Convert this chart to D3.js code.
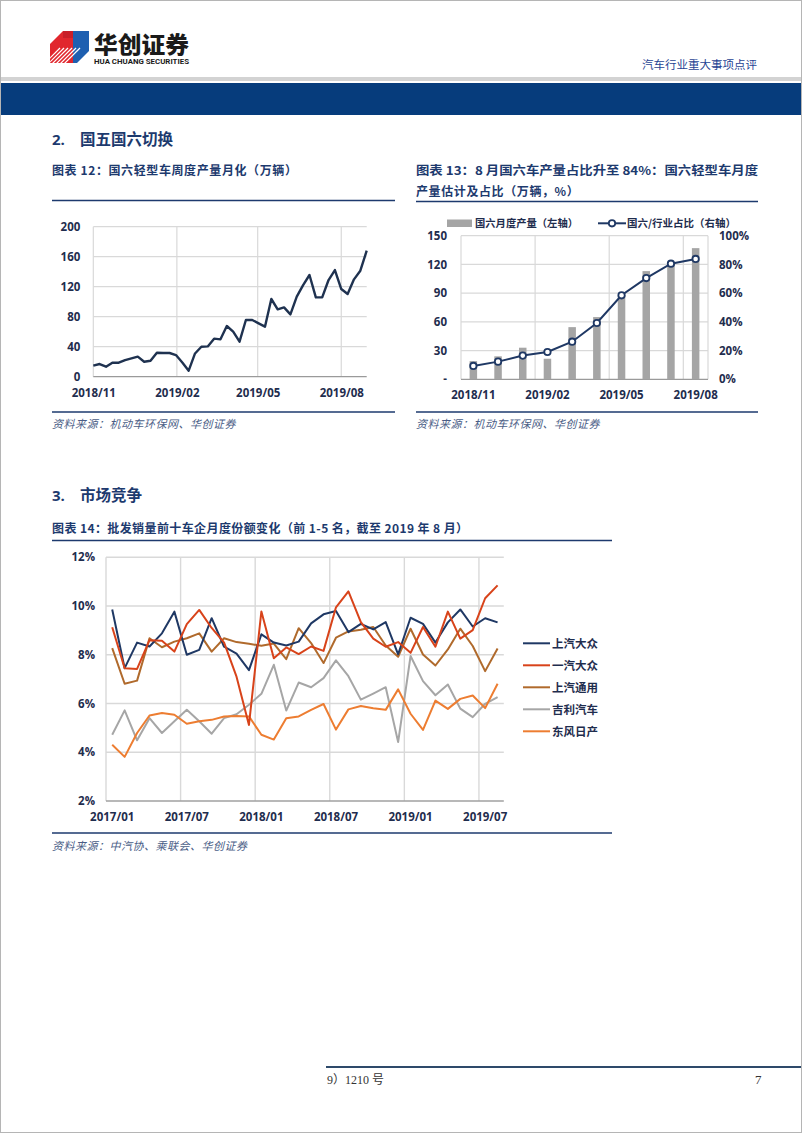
<!DOCTYPE html>
<html><head><meta charset="utf-8">
<script src="https://cdn.jsdelivr.net/npm/d3@7"></script>
<style>body{margin:0;background:#fff;}svg{display:block;}</style>
</head><body>
<svg id="page" width="802" height="1133"></svg>
<script>
// ---------------- DATA ----------------
// Chart 12: weekly annualised-monthly output of China-6 light vehicles (万辆)
const weeklyStart = "2018-11-01";
const weeklyValues = [14.7,16.9,13.3,18.7,18.7,22.2,24.4,26.7,20,21.3,32,31.6,31.6,28.9,19,8,31,40,40.4,50.7,49.8,67.6,60,46.7,75.6,75.6,71.1,66.7,103.6,89.8,92.4,83.1,106.7,122.2,135.6,105.8,105.8,128.9,142.2,116.9,110.2,129.8,141.3,168];
const weeklyTicks = ["2018-11-01","2019-02-01","2019-05-01","2019-08-01"];
const yTicks12 = [0,40,80,120,160,200];

// Chart 13: monthly output (left) and share (right)
const months13 = ["2018/11","2018/12","2019/01","2019/02","2019/03","2019/04","2019/05","2019/06","2019/07","2019/08"];
const output13 = [19,24,33,21.5,54.5,65,88,113,120,137];
const share13 = [9.3,12.3,16.5,19,26.2,39.2,58.5,70.5,80.5,83.8];
const leftTicks13 = [0,30,60,90,120,150];
const rightTicks13 = [0,20,40,60,80,100];
const xLabels13 = ["2018/11","2019/02","2019/05","2019/08"];
const legend13 = ["国六月度产量（左轴）","国六/行业占比（右轴）"];

// Chart 14: monthly market share of top-5 OEMs (%)
const months14 = ["2017/01","2017/02","2017/03","2017/04","2017/05","2017/06","2017/07","2017/08","2017/09","2017/10","2017/11","2017/12",
  "2018/01","2018/02","2018/03","2018/04","2018/05","2018/06","2018/07","2018/08","2018/09","2018/10","2018/11","2018/12",
  "2019/01","2019/02","2019/03","2019/04","2019/05","2019/06","2019/07","2019/08"];
const seriesNames14 = ["上汽大众","一汽大众","上汽通用","吉利汽车","东风日产"];
const saicVW  = [9.86,7.45,8.5,8.34,8.88,9.77,8.0,8.2,9.5,8.33,8.05,7.37,8.84,8.5,8.38,8.54,9.29,9.66,9.8,8.93,9.27,9.04,9.34,8.02,9.52,9.27,8.5,9.33,9.86,9.16,9.5,9.33];
const fawVW   = [9.13,7.45,7.42,8.6,8.58,8.13,9.26,9.84,9.1,8.5,7.1,5.12,9.78,7.86,8.3,8.03,8.34,8.16,9.95,10.6,9.34,8.66,8.33,8.52,8.08,9.14,8.33,9.77,8.66,9.01,10.32,10.85];
const saicGM  = [8.27,6.81,6.94,8.68,8.31,8.54,8.68,8.88,8.13,8.68,8.52,8.45,8.37,8.46,7.82,9.09,8.48,7.66,8.7,8.96,9.03,9.14,8.38,7.92,9.07,8.01,7.56,8.22,9.07,8.36,7.33,8.26];
const geely   = [4.72,5.72,4.49,5.4,4.79,5.27,5.74,5.27,4.76,5.4,5.56,5.95,6.4,7.59,5.71,6.86,6.67,7.04,7.77,7.12,6.16,6.41,6.67,4.42,7.95,6.92,6.34,6.78,5.79,5.44,5.99,6.26];
const dfNissan= [4.31,3.81,4.79,5.51,5.61,5.54,5.17,5.27,5.33,5.47,5.49,5.47,4.72,4.52,5.4,5.47,5.74,5.98,4.93,5.76,5.9,5.81,5.74,6.58,5.58,4.92,6.12,5.78,6.19,6.33,5.81,6.81];
const colors14 = ["#1f3864","#d8431a","#b06a2c","#a6a6a6","#ed7d31"];
const yTicks14 = [2,4,6,8,10,12];
const xLabels14 = ["2017/01","2017/07","2018/01","2018/07","2019/01","2019/07"];

// ---------------- STYLE ----------------
const NAVY = "#1d3a6e", TICK = "#1f2d4e", GRID = "#d9d9d9";
const CJK = "'Noto Sans CJK SC','Noto Sans',sans-serif";
const NUM = "'Open Sans','Noto Sans',sans-serif";
const SERIF = "'Liberation Serif','DejaVu Serif','Noto Sans CJK SC',serif";

const svg = d3.select("#page");
svg.append("rect").attr("x",0.5).attr("y",0.5).attr("width",801).attr("height",1132)
  .attr("fill","none").attr("stroke","#b5b5b5");

function txt(x,y,s,o){
  const t = svg.append("text").attr("x",x).attr("y",y).text(s)
    .attr("font-family",o.family||CJK).attr("font-size",o.size||12)
    .attr("font-weight",o.weight||400).attr("fill",o.fill||NAVY);
  if(o.anchor) t.attr("text-anchor",o.anchor);
  if(o.italic) t.attr("font-style","italic");
  if(o.len) t.attr("textLength",o.len).attr("lengthAdjust","spacingAndGlyphs");
  if(o.ls) t.attr("letter-spacing",o.ls);
  return t;
}
function rule(x1,x2,y,c,w){
  svg.append("line").attr("x1",x1).attr("x2",x2).attr("y1",y).attr("y2",y)
    .attr("stroke",c||NAVY).attr("stroke-width",w||1.5);
}

// ---------------- HEADER ----------------
const logo = svg.append("g");
logo.append("polygon").attr("points","50,44 63,31 73,31 73,63 50,63").attr("fill","#e1262d");
logo.append("polygon").attr("points","73,31 89,31 89,51 77,63 73,63").attr("fill","#1e5fb0");
logo.append("polygon").attr("points","63,31 73,31 73,38 63,38").attr("fill","#c81e28");
const clip = svg.append("clipPath").attr("id","lg");
clip.append("polygon").attr("points","50,44 63,31 89,31 89,51 77,63 50,63");
const st = svg.append("g").attr("clip-path","url(#lg)");
[0,4,8,12,16,20].forEach(k=>{
  st.append("line").attr("x1",44+k).attr("y1",64).attr("x2",60+k).attr("y2",48)
    .attr("stroke","#fff").attr("stroke-width",1.2);
});
txt(94,53,"华创证券",{size:23,weight:900,fill:"#1a1a1a",len:95});
txt(94,64,"HUA CHUANG SECURITIES",{family:"'Roboto','Open Sans',sans-serif",size:7,weight:700,fill:"#1a1a1a",len:95});
txt(757,69,"汽车行业重大事项点评",{size:11.5,weight:400,fill:"#1f4393",anchor:"end"});
svg.append("rect").attr("x",1).attr("y",77).attr("width",800).attr("height",4).attr("fill","#d3d3d3");
svg.append("rect").attr("x",1).attr("y",83).attr("width",800).attr("height",32).attr("fill","#063c7c");

// ---------------- SECTION 2 ----------------
txt(52,145,"2.",{size:15,weight:700,family:NUM});
txt(80,145,"国五国六切换",{size:15.5,weight:700});
txt(52,175,"图表 12：国六轻型车周度产量月化（万辆）",{size:12,weight:700,ls:0.6});
rule(52,395,200.5);
rule(52,395,412);
txt(52,428,"资料来源：机动车环保网、华创证券",{size:11,italic:true,fill:"#4a5d86",ls:0.5});

// Chart 12
(function(){
  const start = d3.isoParse(weeklyStart+"T00:00:00Z");
  const dates = weeklyValues.map((v,i)=>d3.utcDay.offset(start,7*i));
  const x = d3.scaleUtc().domain([dates[0],dates[dates.length-1]]).range([93.3,366.7]);
  const y = d3.scaleLinear().domain([0,200]).range([376.7,226.7]);
  const g = svg.append("g");
  yTicks12.forEach(t=>{ if(t>0) g.append("line").attr("x1",93.3).attr("x2",366.7).attr("y1",y(t)).attr("y2",y(t)).attr("stroke",GRID).attr("stroke-width",1.2);});
  const td = weeklyTicks.map(s=>d3.isoParse(s+"T00:00:00Z"));
  td.forEach(d=>g.append("line").attr("x1",x(d)).attr("x2",x(d)).attr("y1",y(0)).attr("y2",y(200)).attr("stroke",GRID).attr("stroke-width",1.2));
  g.append("line").attr("x1",93.3).attr("x2",366.7).attr("y1",y(0)).attr("y2",y(0)).attr("stroke","#9a9a9a").attr("stroke-width",1.2);
  const ax = g.append("g").attr("transform",`translate(0,${y(0)})`)
    .call(d3.axisBottom(x).tickValues(td).tickFormat(d3.utcFormat("%Y/%m")).tickSize(0).tickPadding(12));
  const ay = g.append("g").attr("transform",`translate(93.3,0)`)
    .call(d3.axisLeft(y).tickValues(yTicks12).tickSize(0).tickPadding(13));
  [ax,ay].forEach(a=>{a.select(".domain").remove();
    a.selectAll("text").attr("font-family",NUM).attr("font-weight",700).attr("font-size",11.5).attr("fill",TICK);});
  g.append("path").datum(weeklyValues)
    .attr("d",d3.line().x((d,i)=>x(dates[i])).y(d=>y(d)))
    .attr("fill","none").attr("stroke","#1f3250").attr("stroke-width",2.4).attr("stroke-linejoin","round");
})();

// Chart 13
txt(416,175,"图表 13：8 月国六车产量占比升至 84%：国六轻型车月度",{size:12,weight:700,len:342});
txt(416,196,"产量估计及占比（万辆，%）",{size:12,weight:700,ls:0.6});
rule(416,758,201.5);
rule(416,758,412);
txt(416,428,"资料来源：机动车环保网、华创证券",{size:11,italic:true,fill:"#4a5d86",ls:0.5});
(function(){
  const x = d3.scaleBand().domain(months13).range([461,708]).padding(0);
  const yl = d3.scaleLinear().domain([0,150]).range([379.3,235.7]);
  const yr = d3.scaleLinear().domain([0,100]).range([379.3,235.7]);
  const g = svg.append("g");
  leftTicks13.forEach(t=>{ if(t>0) g.append("line").attr("x1",461).attr("x2",708).attr("y1",yl(t)).attr("y2",yl(t)).attr("stroke",GRID).attr("stroke-width",1.2);});
  [0,3,6,9].forEach(i=>{ const xx = x(months13[i]); g.append("line").attr("x1",xx).attr("x2",xx).attr("y1",yl(0)).attr("y2",yl(150)).attr("stroke",GRID).attr("stroke-width",1.2);});
  g.append("line").attr("x1",708).attr("x2",708).attr("y1",yl(0)).attr("y2",yl(150)).attr("stroke",GRID).attr("stroke-width",1.2);
  g.append("line").attr("x1",461).attr("x2",708).attr("y1",yl(0)).attr("y2",yl(0)).attr("stroke","#9a9a9a").attr("stroke-width",1.2);
  const bw = 7.5;
  g.selectAll("rect.bar").data(output13).enter().append("rect")
    .attr("x",(d,i)=>x(months13[i])+x.bandwidth()/2-bw/2).attr("width",bw)
    .attr("y",d=>yl(d)).attr("height",d=>yl(0)-yl(d)).attr("fill","#a5a5a5");
  const cx = (d,i)=>x(months13[i])+x.bandwidth()/2;
  g.append("path").datum(share13).attr("d",d3.line().x(cx).y(d=>yr(d)))
    .attr("fill","none").attr("stroke","#1f3864").attr("stroke-width",2);
  g.selectAll("circle.m").data(share13).enter().append("circle")
    .attr("cx",cx).attr("cy",d=>yr(d)).attr("r",3.2).attr("fill","#fff").attr("stroke","#1f3864").attr("stroke-width",1.8);
  const ax = g.append("g").attr("transform",`translate(0,${yl(0)})`)
    .call(d3.axisBottom(x).tickValues(xLabels13).tickSize(0).tickPadding(12));
  const al = g.append("g").attr("transform",`translate(461,0)`)
    .call(d3.axisLeft(yl).tickValues(leftTicks13).tickFormat(d=>d===0?"-":d).tickSize(0).tickPadding(14));
  const ar = g.append("g").attr("transform",`translate(708,0)`)
    .call(d3.axisRight(yr).tickValues(rightTicks13).tickFormat(d=>d+"%").tickSize(0).tickPadding(11));
  [ax,al,ar].forEach(a=>{a.select(".domain").remove();
    a.selectAll("text").attr("font-family",NUM).attr("font-weight",700).attr("font-size",11.5).attr("fill",TICK);});
  // legend
  g.append("rect").attr("x",447).attr("y",219.5).attr("width",25).attr("height",7.5).attr("fill","#a5a5a5");
  txt(475,227,legend13[0],{size:10.5,weight:700,fill:TICK,len:103});
  g.append("line").attr("x1",598).attr("x2",626).attr("y1",223.3).attr("y2",223.3).attr("stroke","#1f3864").attr("stroke-width",2);
  g.append("circle").attr("cx",612).attr("cy",223.3).attr("r",3.2).attr("fill","#fff").attr("stroke","#1f3864").attr("stroke-width",1.8);
  txt(627,227,legend13[1],{size:10.5,weight:700,fill:TICK,len:109});
})();

// ---------------- SECTION 3 ----------------
txt(52,501,"3.",{size:15,weight:700,family:NUM});
txt(80,501,"市场竞争",{size:15.5,weight:700});
txt(52,533,"图表 14：批发销量前十车企月度份额变化（前 1-5 名，截至 2019 年 8 月）",{size:12,weight:700,ls:0.4});
rule(52,612,540.5);
rule(52,612,833);
txt(52,850,"资料来源：中汽协、乘联会、华创证券",{size:11,italic:true,fill:"#4a5d86",ls:0.5});
(function(){
  const x = d3.scaleBand().domain(months14).range([106,503.8]).padding(0);
  const y = d3.scaleLinear().domain([2,12]).range([801,557.3]);
  const g = svg.append("g");
  yTicks14.forEach(t=>{ if(t>2) g.append("line").attr("x1",106).attr("x2",503.8).attr("y1",y(t)).attr("y2",y(t)).attr("stroke",GRID).attr("stroke-width",1.4);});
  [0,6,12,18,24,30].forEach(i=>{ const xx=x(months14[i]); g.append("line").attr("x1",xx).attr("x2",xx).attr("y1",y(2)).attr("y2",y(12)).attr("stroke",GRID).attr("stroke-width",1.4);});
  g.append("line").attr("x1",106).attr("x2",503.8).attr("y1",y(2)).attr("y2",y(2)).attr("stroke","#a0a0a0").attr("stroke-width",1.4);
  const cx = (d,i)=>x(months14[i])+x.bandwidth()/2;
  const all = [saicVW,fawVW,saicGM,geely,dfNissan];
  const order = [3,4,2,0,1];
  order.forEach(k=>{
    g.append("path").datum(all[k]).attr("d",d3.line().x(cx).y(d=>y(d)))
      .attr("fill","none").attr("stroke",colors14[k]).attr("stroke-width",2).attr("stroke-linejoin","round");
  });
  const ax = g.append("g").attr("transform",`translate(0,${y(2)})`)
    .call(d3.axisBottom(x).tickValues(xLabels14).tickSize(0).tickPadding(12));
  const ay = g.append("g").attr("transform",`translate(106,0)`)
    .call(d3.axisLeft(y).tickValues(yTicks14).tickFormat(d=>d+"%").tickSize(0).tickPadding(11));
  [ax,ay].forEach(a=>{a.select(".domain").remove();
    a.selectAll("text").attr("font-family",NUM).attr("font-weight",700).attr("font-size",11.5).attr("fill",TICK);});
  seriesNames14.forEach((n,i)=>{
    const yy = 643.3 + 22*i;
    g.append("line").attr("x1",523).attr("x2",550).attr("y1",yy).attr("y2",yy).attr("stroke",colors14[i]).attr("stroke-width",2);
    txt(552,yy+4.2,n,{size:11.5,weight:700,fill:TICK});
  });
})();

// ---------------- FOOTER ----------------
rule(326,801,1067,"#2e4a6a",2);
txt(327,1084,"9）1210 号",{family:SERIF,size:12,fill:"#333"});
txt(755,1084,"7",{family:SERIF,size:13,fill:"#333"});
</script>
</body></html>
